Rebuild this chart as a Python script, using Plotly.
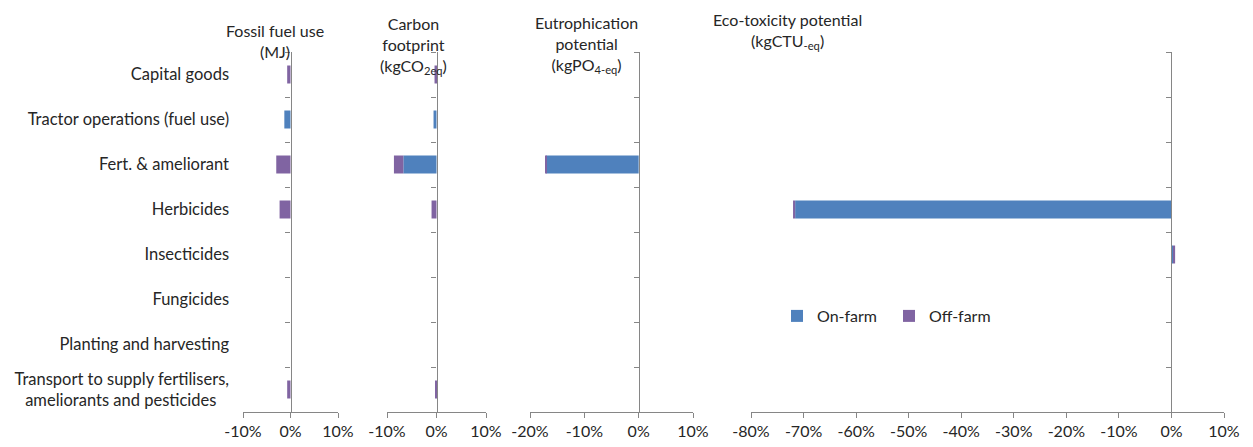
import plotly.graph_objects as go

# ---------------- data ----------------
categories = [
    "Capital goods",
    "Tractor operations (fuel use)",
    "Fert. & ameliorant",
    "Herbicides",
    "Insecticides",
    "Fungicides",
    "Planting and harvesting",
    "Transport to supply fertilisers,<br>ameliorants and pesticides&nbsp;&nbsp;&nbsp;",
]

fossil_on = [0, -1.3, 0, 0, 0, 0, 0, 0]
fossil_off = [-0.7, 0, -3.0, -2.3, 0, 0, 0, -0.7]
carbon_on = [0, -0.6, -6.7, 0, 0, 0, 0, 0]
carbon_off = [-0.4, 0, -1.9, -1.0, 0, 0, 0, -0.3]
eutro_on = [0, 0, -17.0, 0, 0, 0, 0, 0]
eutro_off = [0, 0, -0.2, 0, 0, 0, 0, 0]
eco_on = [0, 0, 0, -71.6, 0.3, 0, 0, 0]
eco_off = [0, 0, 0, -0.4, 0.4, 0, 0, 0]

panel_titles = [
    "Fossil fuel use<br>(MJ)",
    "Carbon<br>footprint<br>(kgCO<sub>2eq</sub>)",
    "Eutrophication<br>potential<br>(kgPO<sub>4-eq</sub>)",
    "Eco-toxicity potential<br>(kgCTU<sub>-eq</sub>)",
]

ticks_p1 = [-10, 0, 10]
ticks_p3 = [-20, -10, 0, 10]
ticks_p4 = [-80, -70, -60, -50, -40, -30, -20, -10, 0, 10]
series_names = ["On-farm", "Off-farm"]

# ---------------- styling ----------------
OFF = 8                      # page body margin of the html page
W, H = 1253 - OFF, 447 - OFF
TOP_PG, BOT_PG = 52, 412      # plot area top / bottom on the page
MT = TOP_PG - OFF
MB = H - (BOT_PG - OFF)
PH = H - MT - MB
ON_COLOR = "#4F81BD"
OFF_COLOR = "#8064A2"
AXIS_GRAY = "#868686"
TEXT = "#262626"
FONT = "Lato"
FS = 16


def px_x(page_x):
    return (page_x - OFF) / W


def px_y(page_y):
    return 1 + (TOP_PG - page_y) / PH


panels = [
    dict(on=fossil_on, off=fossil_off, px=(243, 338), rng=(-10, 10), ticks=ticks_p1),
    dict(on=carbon_on, off=carbon_off, px=(387, 486), rng=(-10, 10), ticks=ticks_p1),
    dict(on=eutro_on, off=eutro_off, px=(530, 693), rng=(-20, 10), ticks=ticks_p3),
    dict(on=eco_on, off=eco_off, px=(751, 1224), rng=(-80, 10), ticks=ticks_p4),
]

fig = go.Figure()
layout = {}
for i, p in enumerate(panels):
    n = "" if i == 0 else str(i + 1)
    xa, ya = "x" + n, "y" + n
    fig.add_trace(go.Bar(
        y=categories, x=p["on"], orientation="h", name=series_names[0],
        marker=dict(color=ON_COLOR, line=dict(width=0)),
        xaxis=xa, yaxis=ya, showlegend=(i == 3), legendgroup="on"))
    fig.add_trace(go.Bar(
        y=categories, x=p["off"], orientation="h", name=series_names[1],
        marker=dict(color=OFF_COLOR, line=dict(width=0)),
        xaxis=xa, yaxis=ya, showlegend=(i == 3), legendgroup="off"))
    d0, d1 = px_x(p["px"][0]), px_x(p["px"][1])
    lo, hi = p["rng"]
    zero_pos = d0 + (0 - lo) / (hi - lo) * (d1 - d0)
    layout["xaxis" + n] = dict(
        domain=[d0, d1], range=[lo, hi], anchor=ya, automargin=False,
        tickmode="array", tickvals=p["ticks"],
        ticktext=[f"{t}%" for t in p["ticks"]],
        ticks="outside", ticklen=5, tickcolor=AXIS_GRAY,
        showline=True, linecolor=AXIS_GRAY, linewidth=1.3,
        showgrid=False, zeroline=False,
        tickfont=dict(family=FONT, size=FS, color=TEXT),
    )
    layout["yaxis" + n] = dict(
        domain=[0, 1], anchor="free", position=zero_pos, automargin=False,
        type="category", categoryorder="array", categoryarray=categories,
        autorange="reversed", tickson="boundaries",
        ticks="outside", ticklen=5, tickcolor=AXIS_GRAY,
        showline=True, linecolor=AXIS_GRAY, linewidth=1.3,
        showgrid=False, zeroline=False,
        showticklabels=(i == 0),
        ticklabelstandoff=58 if i == 0 else 0,
        tickfont=dict(family=FONT, size=16.5, color=TEXT),
    )

fig.update_layout(**layout)

# panel titles
title_pos = [(275, 41), (413, 45), (586, 44), (787, 31)]
for t, (cx, cy) in zip(panel_titles, title_pos):
    fig.add_annotation(
        text=t, xref="paper", yref="paper",
        x=px_x(cx), y=px_y(cy),
        xanchor="center", yanchor="middle", align="center", showarrow=False,
        font=dict(family=FONT, size=FS, color=TEXT))

fig.update_layout(
    width=W, height=H,
    margin=dict(l=0, r=0, t=MT, b=MB, autoexpand=False),
    barmode="relative", bargap=0.6,
    plot_bgcolor="white", paper_bgcolor="white",
    font=dict(family=FONT, size=FS, color=TEXT),
    legend=dict(
        orientation="h", x=px_x(777), y=px_y(316),
        xanchor="left", yanchor="middle",
        entrywidth=67, entrywidthmode="pixels",
        font=dict(family=FONT, size=FS, color=TEXT),
        bgcolor="rgba(0,0,0,0)", itemwidth=30,
    ),
)

fig.write_html("out.html")
